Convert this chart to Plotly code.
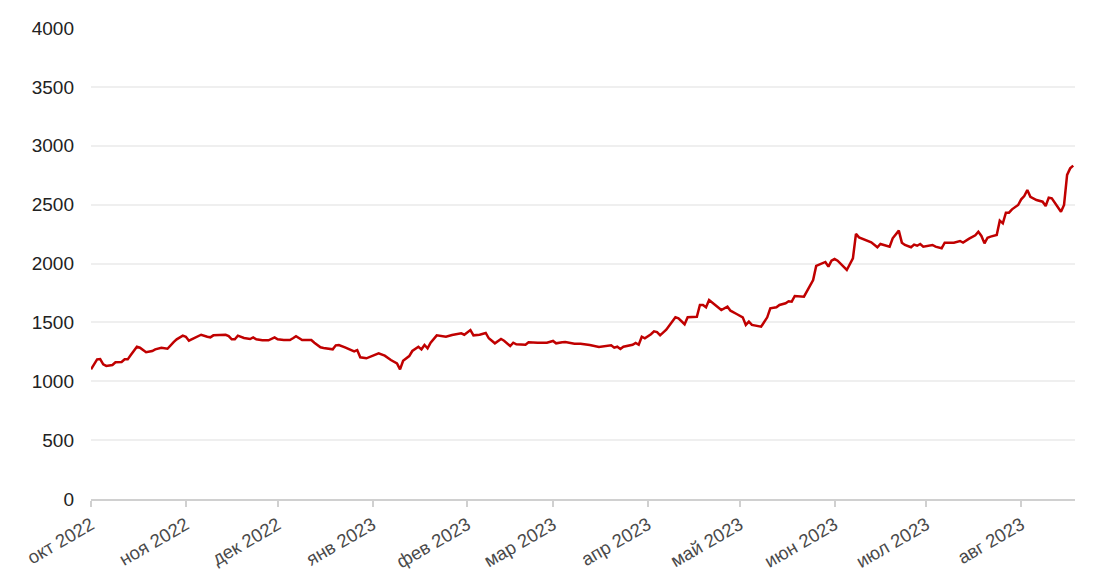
import pandas as pd
import plotly.graph_objects as go

# days since 2022-10-01
day_offsets = [0, 2, 3, 4, 5, 7, 8, 10, 11, 12, 13, 15, 16, 18, 20, 21, 23, 25, 27, 28,
               30, 31, 32, 34, 36, 38, 39, 40, 42, 44, 45, 46, 47, 48, 50, 52, 53, 54, 56, 58,
               60, 61, 63, 65, 66, 67, 69, 72, 73, 75, 76, 79, 80, 81, 83, 85, 86, 87, 88, 90,
               91, 94, 96, 98, 100, 101, 102, 104, 105, 107, 108, 109, 110, 111, 113, 116, 118, 121, 122, 124,
               125, 127, 129, 130, 132, 134, 135, 137, 138, 139, 142, 143, 146, 149, 151, 152, 154, 155, 158, 160,
               163, 166, 170, 171, 172, 173, 174, 177, 178, 179, 180, 181, 183, 184, 185, 186, 188, 190, 191, 192,
               194, 195, 198, 199, 200, 201, 202, 204, 206, 208, 209, 211, 213, 214, 215, 216, 219, 221, 222, 224,
               225, 227, 228, 229, 230, 233, 235, 236, 237, 239, 240, 241, 242, 243, 244, 247, 249, 250, 251, 255,
               257, 258, 261, 262, 264, 265, 266, 268, 269, 270, 271, 272, 275, 276, 278, 279, 282, 284, 285, 287,
               289, 290, 291, 292, 293, 294, 296, 297, 298, 299, 300, 301, 303, 304, 305, 306, 307, 309, 311, 312,
               313, 314, 317, 318, 319, 320, 321]
values = [1101, 1186, 1189, 1144, 1130, 1138, 1161, 1163, 1186, 1186, 1223, 1293, 1285, 1246, 1257, 1271, 1285, 1276, 1333, 1356,
          1387, 1378, 1344, 1370, 1395, 1378, 1373, 1390, 1390, 1395, 1384, 1356, 1356, 1387, 1367, 1359, 1373, 1356, 1348, 1348,
          1373, 1356, 1350, 1350, 1365, 1382, 1350, 1350, 1327, 1288, 1282, 1271, 1305, 1308, 1288, 1268, 1254, 1265, 1203, 1195,
          1206, 1237, 1217, 1180, 1152, 1101, 1174, 1214, 1257, 1293, 1271, 1308, 1280, 1327, 1390, 1378, 1393, 1407, 1395, 1435,
          1390, 1395, 1410, 1365, 1322, 1359, 1344, 1299, 1327, 1314, 1310, 1331, 1327, 1327, 1342, 1322, 1331, 1333, 1319, 1319,
          1308, 1291, 1305, 1285, 1293, 1274, 1293, 1310, 1325, 1310, 1378, 1365, 1399, 1424, 1418, 1390, 1438, 1506, 1543, 1535,
          1484, 1543, 1548, 1648, 1648, 1628, 1690, 1648, 1605, 1633, 1599, 1571, 1543, 1478, 1506, 1478, 1463, 1543, 1619, 1628,
          1648, 1662, 1679, 1676, 1724, 1718, 1817, 1860, 1979, 2001, 2013, 1973, 2024, 2038, 2024, 1945, 2044, 2251, 2222, 2180,
          2138, 2166, 2143, 2214, 2279, 2177, 2157, 2138, 2160, 2151, 2166, 2143, 2157, 2143, 2129, 2177, 2177, 2191, 2177, 2211,
          2239, 2270, 2234, 2171, 2219, 2228, 2242, 2364, 2341, 2432, 2432, 2460, 2497, 2545, 2573, 2624, 2567, 2539, 2525, 2488,
          2559, 2554, 2440, 2497, 2752, 2808, 2831]

tick_dates = ["2022-10-01", "2022-11-01", "2022-12-01", "2023-01-01", "2023-02-01", "2023-03-01",
              "2023-04-01", "2023-05-01", "2023-06-01", "2023-07-01", "2023-08-01"]
tick_labels = ["окт 2022", "ноя 2022", "дек 2022", "янв 2023", "фев 2023", "мар 2023",
               "апр 2023", "май 2023", "июн 2023", "июл 2023", "авг 2023"]
y_ticks = [0, 500, 1000, 1500, 2000, 2500, 3000, 3500, 4000]

start = pd.Timestamp("2022-10-01")
dates = start + pd.to_timedelta(day_offsets, unit="D")

fig = go.Figure()
fig.add_trace(go.Scatter(x=dates, y=values, mode="lines",
                         line=dict(color="#c00000", width=2.5), hoverinfo="x+y"))

# page body has an 8px margin, so the figure is offset by 8px
fig.update_layout(
    width=1092, height=579,
    margin=dict(l=83, r=25, t=20, b=88, autoexpand=False),
    paper_bgcolor="white", plot_bgcolor="white",
    showlegend=False,
    font=dict(family="Liberation Sans, Arial, sans-serif"),
)
fig.update_xaxes(
    range=["2022-10-01", "2023-08-18 14:00"],
    tickvals=tick_dates, ticktext=tick_labels, tickangle=-30,
    tickfont=dict(size=18.5, color="#4a4a4a"),
    showgrid=False, zeroline=False, automargin=False,
    showline=True, linecolor="#d0d0d0", linewidth=2,
    ticks="outside", ticklen=6, tickcolor="#d0d0d0", tickwidth=2,
)
fig.update_yaxes(
    range=[0, 4000], tickvals=y_ticks,
    tickfont=dict(size=19, color="#222222"),
    showgrid=True, gridcolor="#efefef", gridwidth=2,
    zeroline=False, showline=False, ticks="", ticklabelstandoff=16,
    automargin=False,
)

fig.write_html("out.html")
